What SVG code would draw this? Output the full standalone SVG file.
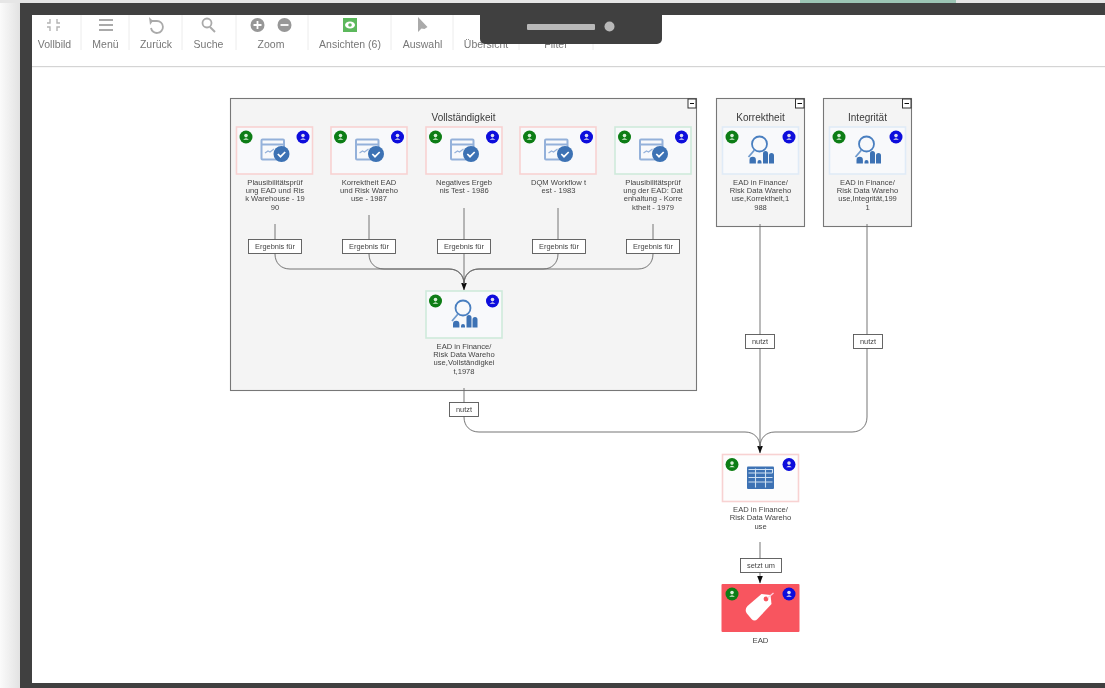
<svg xmlns="http://www.w3.org/2000/svg" width="1105" height="688" viewBox="0 0 1105 688">
<style>
text{font-family:"Liberation Sans",Arial,sans-serif;text-anchor:middle}
.tb{font-size:10.5px;fill:#777}
.sep{stroke:#ececec;stroke-width:1}
.tic{fill:#aaa}
.title{font-size:10px;fill:#3a3a3a}
.nl{font-size:7.6px;fill:#444}
.el{font-size:7.4px;fill:#444}
.lb{fill:#fff;stroke:#555;stroke-width:.9}
.grp{fill:#f4f4f4;stroke:#777;stroke-width:1.1}
.node{fill:#f8f9fb;stroke-width:1.6}
.red{stroke:#f8d2d2}.grn{stroke:#cfeadb}.blu{stroke:#e0ebf7}
.con{fill:none;stroke:#666;stroke-width:.9}
</style>
<defs>
<filter id="soft" x="-2%" y="-2%" width="104%" height="104%"><feGaussianBlur stdDeviation="0.42"/></filter>
<linearGradient id="shadow" x1="0" x2="1" y1="0" y2="0"><stop offset="0" stop-color="#fdfdfd"/><stop offset="1" stop-color="#e2e2e2"/></linearGradient>
<marker id="arr" viewBox="0 0 8 6" refX="7.5" refY="3" markerWidth="8" markerHeight="6" markerUnits="userSpaceOnUse" orient="auto"><path d="M0 0L8 3L0 6Z" fill="#111"/></marker>
<g id="badges">
<circle cx="9.5" cy="10" r="6.5" fill="#0a7d12"/><circle cx="9.5" cy="8.6" r="1.8" fill="#d8efd8"/><path d="M6.6 12.8q2.9-3 5.8 0z" fill="#d8efd8"/>
<circle cx="66.5" cy="10" r="6.5" fill="#0808dc"/><circle cx="66.5" cy="8.6" r="1.8" fill="#dde"/><path d="M63.600 12.800q2.900-3 5.800 0z" fill="#dde"/>
</g>
<g id="ic-check">
<rect x="25" y="12.500" width="22.500" height="20" rx="1" fill="none" stroke="#94b1da" stroke-width="2"/>
<path d="M25 17.500h22.500" stroke="#94b1da" stroke-width="2"/>
<path d="M28.500 26l3-2 2 1 4-3" fill="none" stroke="#94b1da" stroke-width="1.200"/>
<circle cx="45" cy="27" r="8" fill="#3c72b4"/>
<path d="M41.300 27l2.700 2.700 4.700-4.700" fill="none" stroke="#fff" stroke-width="1.700"/>
</g>
<g id="ic-ana">
<circle cx="37" cy="17" r="7.500" fill="#f8f9fb" stroke="#4a7fc0" stroke-width="1.800"/>
<path d="M32 23l-6 7" stroke="#6f9acd" stroke-width="1.800"/>
<path d="M27 36.500v-3.500a3.200 3.200 0 0 1 6.400 0v3.500z M35 36.500v-1.500a2 2 0 0 1 4 0v1.500z M40.500 36.500v-10a2.500 2.500 0 0 1 5 0v10z M46.500 36.500v-8a2.500 2.500 0 0 1 5 0v8z" fill="#3c72b4"/>
</g>
</defs>

<rect width="1105" height="688" fill="#fff"/>
<g filter="url(#soft)">
<rect x="-2" y="-2" width="22" height="692" fill="url(#shadow)"/>
<rect x="-2" y="-2" width="1110" height="5" fill="#e6e6e6"/>
<rect x="800" y="-2" width="156" height="5" fill="#9cc5b5"/>
<path d="M20 3H1108V15H32V683H1108V690H20Z" fill="#404040"/>

<g id="toolbar">
<path class="sep" d="M81 15V50M129 15V50M182 15V50M236 15V50M308 15V50M391 15V50M453 15V50M519 15V50M593 15V50"/>
<rect x="32" y="66" width="1076" height="1.200" fill="#d4d4d4"/>
<path d="M50 19v4h-3M57 19v4h3M50 31v-4h-3M57 31v-4h3" fill="none" stroke="#b4b4b4" stroke-width="1.400"/>
<rect class="tic" x="99" y="19" width="14" height="2"/><rect class="tic" x="99" y="24" width="14" height="2"/><rect class="tic" x="99" y="29" width="14" height="2"/>
<path d="M150 21h7a6 6 0 1 1-6 7" fill="none" stroke="#aaa" stroke-width="1.800"/><path d="M149 17l1 8 3-4z" fill="#aaa"/>
<circle cx="207" cy="23" r="4.500" fill="none" stroke="#aaa" stroke-width="1.800"/><path d="M210 27l5 5" stroke="#aaa" stroke-width="2"/>
<circle cx="257.500" cy="25" r="7" fill="#979797"/><path d="M253.500 25h8M257.500 21v8" stroke="#fff" stroke-width="1.800"/>
<circle cx="284.500" cy="25" r="7" fill="#979797"/><path d="M280.500 25h8" stroke="#fff" stroke-width="1.800"/>
<rect x="343" y="18" width="14" height="14" fill="#5cb85c"/><ellipse cx="350" cy="25" rx="5" ry="3.500" fill="#fff"/><circle cx="350" cy="25" r="1.800" fill="#5cb85c"/>
<path d="M418 17v15l3.500-3.500 3 .5 3-2z" fill="#aaa"/>
<text class="tb" x="54.500" y="48">Vollbild</text>
<text class="tb" x="105.500" y="48">Menü</text>
<text class="tb" x="156" y="48">Zurück</text>
<text class="tb" x="208.500" y="48">Suche</text>
<text class="tb" x="271" y="48">Zoom</text>
<text class="tb" x="350" y="48">Ansichten (6)</text>
<text class="tb" x="422.500" y="48">Auswahl</text>
<text class="tb" x="486" y="48">Übersicht</text>
<text class="tb" x="556" y="48">Filter</text>
<path d="M480 15H662V39a5 5 0 0 1-5 5H485a5 5 0 0 1-5-5Z" fill="#404040"/>
<rect x="527" y="24" width="68" height="6" rx="1" fill="#b8b8b8"/><circle cx="609.500" cy="26.500" r="5" fill="#b8b8b8"/>
</g>

<g id="group-vollstaendigkeit">
<rect class="grp" x="230.500" y="98.500" width="466" height="292"/>
<text class="title" x="463.500" y="121">Vollständigkeit</text>
<rect x="688" y="99" width="8" height="9" fill="#fff" stroke="#333"/><path d="M690 103.500h4" stroke="#111"/>
</g>
<g id="group-korrektheit">
<rect class="grp" x="716.500" y="98.500" width="88" height="128"/>
<text class="title" x="760.500" y="121">Korrektheit</text>
<rect x="795.500" y="99" width="8.500" height="9" fill="#fff" stroke="#333"/><path d="M797.500 103.500h4.500" stroke="#111"/>
</g>
<g id="group-integritaet">
<rect class="grp" x="823.500" y="98.500" width="88" height="128"/>
<text class="title" x="867.500" y="121">Integrität</text>
<rect x="902.500" y="99" width="8.500" height="9" fill="#fff" stroke="#333"/><path d="M904.500 103.500h4.500" stroke="#111"/>
</g>

<g id="connectors">
<path class="con" d="M275 224V254C275 263 281 269 290 269H449C458 269 464 275 464 284"/>
<path class="con" d="M369 215V254C369 263 375 269 384 269H449C458 269 464 275 464 284"/>
<path class="con" d="M464 208V290" marker-end="url(#arr)"/>
<path class="con" d="M558 208V254C558 263 552 269 543 269H479C470 269 464 275 464 284"/>
<path class="con" d="M653 224V254C653 263 647 269 638 269H479C470 269 464 275 464 284"/>
<path class="con" d="M464 388V417C464 426 470 432 479 432H745C754 432 760 438 760 447"/>
<path class="con" d="M760 224V453" marker-end="url(#arr)"/>
<path class="con" d="M867 224V417C867 426 861 432 852 432H775C766 432 760 438 760 447"/>
<path class="con" d="M760 542V583" marker-end="url(#arr)"/>
</g>

<g id="labels">
<rect class="lb" x="248.500" y="239.500" width="53" height="14"/><text class="el" x="275" y="249">Ergebnis für</text>
<rect class="lb" x="342.500" y="239.500" width="53" height="14"/><text class="el" x="369" y="249">Ergebnis für</text>
<rect class="lb" x="437.500" y="239.500" width="53" height="14"/><text class="el" x="464" y="249">Ergebnis für</text>
<rect class="lb" x="532.500" y="239.500" width="53" height="14"/><text class="el" x="559" y="249">Ergebnis für</text>
<rect class="lb" x="626.500" y="239.500" width="53" height="14"/><text class="el" x="653" y="249">Ergebnis für</text>
<rect class="lb" x="449.500" y="402.500" width="29" height="14"/><text class="el" x="464" y="412">nutzt</text>
<rect class="lb" x="745.500" y="334.500" width="29" height="14"/><text class="el" x="760" y="344">nutzt</text>
<rect class="lb" x="853.500" y="334.500" width="29" height="14"/><text class="el" x="868" y="344">nutzt</text>
<rect class="lb" x="740.500" y="558.500" width="41" height="14"/><text class="el" x="761" y="568">setzt um</text>
</g>

<g id="n1" transform="translate(236.500 127)"><rect class="node red" width="76" height="47"/><use href="#ic-check"/><use href="#badges"/>
<text class="nl" x="38.500" y="57.500">Plausibilitätsprüf</text><text class="nl" x="38.500" y="65.500">ung EAD und Ris</text><text class="nl" x="38.500" y="74">k Warehouse - 19</text><text class="nl" x="38.500" y="82.500">90</text></g>
<g id="n2" transform="translate(331 127)"><rect class="node red" width="76" height="47"/><use href="#ic-check"/><use href="#badges"/>
<text class="nl" x="38" y="57.500">Korrektheit EAD</text><text class="nl" x="38" y="65.500">und Risk Wareho</text><text class="nl" x="38" y="74">use - 1987</text></g>
<g id="n3" transform="translate(426 127)"><rect class="node red" width="76" height="47"/><use href="#ic-check"/><use href="#badges"/>
<text class="nl" x="38" y="57.500">Negatives Ergeb</text><text class="nl" x="38" y="65.500">nis Test - 1986</text></g>
<g id="n4" transform="translate(520 127)"><rect class="node red" width="76" height="47"/><use href="#ic-check"/><use href="#badges"/>
<text class="nl" x="38.500" y="57.500">DQM Workflow t</text><text class="nl" x="38.500" y="65.500">est - 1983</text></g>
<g id="n5" transform="translate(615 127)"><rect class="node grn" width="76" height="47"/><use href="#ic-check"/><use href="#badges"/>
<text class="nl" x="38" y="57.500">Plausibilitätsprüf</text><text class="nl" x="38" y="65.500">ung der EAD: Dat</text><text class="nl" x="38" y="74">enhaltung - Korre</text><text class="nl" x="38" y="82.500">ktheit - 1979</text></g>
<g id="n6" transform="translate(426 291)"><rect class="node grn" width="76" height="47"/><use href="#ic-ana"/><use href="#badges"/>
<text class="nl" x="38" y="57.500">EAD in Finance/</text><text class="nl" x="38" y="65.500">Risk Data Wareho</text><text class="nl" x="38" y="74">use,Vollständigkei</text><text class="nl" x="38" y="82.500">t,1978</text></g>
<g id="n7" transform="translate(722.500 127)"><rect class="node blu" width="76" height="47"/><use href="#ic-ana"/><use href="#badges"/>
<text class="nl" x="38" y="57.500">EAD in Finance/</text><text class="nl" x="38" y="65.500">Risk Data Wareho</text><text class="nl" x="38" y="74">use,Korrektheit,1</text><text class="nl" x="38" y="82.500">988</text></g>
<g id="n8" transform="translate(829.500 127)"><rect class="node blu" width="76" height="47"/><use href="#ic-ana"/><use href="#badges"/>
<text class="nl" x="38" y="57.500">EAD in Finance/</text><text class="nl" x="38" y="65.500">Risk Data Wareho</text><text class="nl" x="38" y="74">use,Integrität,199</text><text class="nl" x="38" y="82.500">1</text></g>
<g id="n9" transform="translate(722.500 454.500)"><rect class="node red" width="76" height="47" style="fill:#fdfdfd"/><use href="#badges"/>
<rect x="24.500" y="12" width="27" height="22.500" rx="1" fill="#3c72b4"/>
<path d="M26 15h24v3.500M26 18.500h24M26 23h24M26 27.500h24M33 14v19M43 14v19" fill="none" stroke="#cfe0f2" stroke-width="1.100"/>
<text class="nl" x="38" y="57.500">EAD in Finance/</text><text class="nl" x="38" y="65.500">Risk Data Wareho</text><text class="nl" x="38" y="74">use</text></g>
<g id="n10" transform="translate(721.500 584)"><rect width="78" height="48" rx="1" fill="#f8555f"/><use href="#badges" transform="translate(1 0)"/>
<path d="M26 22L40 10L49 11L50 20L36 35Q33 38 30 35L25 29Q23 25 26 22Z" fill="#fff"/>
<circle cx="44.500" cy="15" r="2.400" fill="#f8555f"/><path d="M46 14L52 9" stroke="#fcd" stroke-width="1.300"/>
<text class="nl" x="39" y="58.500" style="font-size:7.800px">EAD</text></g>
</g>
</svg>
